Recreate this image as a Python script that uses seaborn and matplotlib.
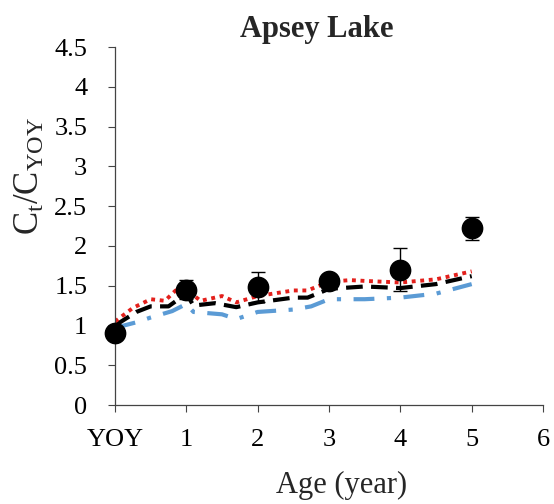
import matplotlib
matplotlib.use("Agg")
import matplotlib.pyplot as plt
import seaborn as sns
import pandas as pd

# Observed data (points with error bars)
obs_age = [0, 1, 2, 3, 4, 5]
obs_ratio = [0.90, 1.45, 1.48, 1.56, 1.70, 2.22]
obs_err = [0.05, 0.12, 0.19, 0.07, 0.27, 0.14]

# Model curves
red_x = [0, 0.25, 0.5, 0.7, 0.85, 1.0, 1.2, 1.5, 1.7, 2.0, 2.5, 2.7, 3.0, 3.3, 3.5, 4.0, 4.5, 5.0]
red_y = [1.05, 1.22, 1.33, 1.31, 1.44, 1.45, 1.31, 1.37, 1.29, 1.37, 1.44, 1.44, 1.55, 1.57, 1.56, 1.54, 1.58, 1.68]

black_x = [0, 0.3, 0.5, 0.75, 1.0, 1.1, 1.4, 1.7, 2.0, 2.5, 2.7, 3.0, 3.5, 4.0, 4.5, 5.0]
black_y = [1.00, 1.17, 1.24, 1.24, 1.40, 1.25, 1.28, 1.23, 1.29, 1.35, 1.35, 1.46, 1.49, 1.47, 1.52, 1.62]

blue_x = [0, 0.3, 0.5, 0.8, 1.0, 1.1, 1.5, 1.7, 2.0, 2.5, 2.75, 3.0, 3.5, 4.0, 4.5, 5.0]
blue_y = [0.97, 1.04, 1.10, 1.18, 1.27, 1.17, 1.14, 1.08, 1.17, 1.20, 1.24, 1.33, 1.33, 1.35, 1.40, 1.52]

x_ticks = [0, 1, 2, 3, 4, 5, 6]
x_ticklabels = ["YOY", "1", "2", "3", "4", "5", "6"]
y_ticks = [0, 0.5, 1, 1.5, 2, 2.5, 3, 3.5, 4, 4.5]
y_ticklabels = ["0", "0.5", "1", "1.5", "2", "2.5", "3", "3.5", "4", "4.5"]

sns.set_theme(style="ticks")
plt.rcParams["font.family"] = ["Liberation Serif", "DejaVu Serif"]
plt.rcParams["mathtext.fontset"] = "custom"
plt.rcParams["mathtext.rm"] = "Liberation Serif"
plt.rcParams["mathtext.it"] = "Liberation Serif"

fig = plt.figure(figsize=(5.54, 5.04), dpi=100)
ax = fig.add_axes([0.2076, 0.1964, 0.7726, 0.7103])

df_red = pd.DataFrame({"x": red_x, "y": red_y})
df_black = pd.DataFrame({"x": black_x, "y": black_y})
df_blue = pd.DataFrame({"x": blue_x, "y": blue_y})
df_obs = pd.DataFrame({"x": obs_age, "y": obs_ratio})

sns.lineplot(data=df_blue, x="x", y="y", ax=ax, color="#5B9BD5", linewidth=3.0,
             sort=False, estimator=None)
ax.lines[-1].set_dashes([5, 3, 1, 3])
sns.lineplot(data=df_black, x="x", y="y", ax=ax, color="black", linewidth=3.0,
             sort=False, estimator=None)
ax.lines[-1].set_dashes([4, 2])
sns.lineplot(data=df_red, x="x", y="y", ax=ax, color="#E3201C", linewidth=2.8,
             sort=False, estimator=None)
ax.lines[-1].set_dashes([1, 1.2])

ax.errorbar(obs_age, obs_ratio, yerr=obs_err, fmt="none", ecolor="black",
            elinewidth=1.0, capsize=5, capthick=1.0, zorder=4)
sns.scatterplot(data=df_obs, x="x", y="y", ax=ax, color="black", s=210,
                edgecolor="black", zorder=5, clip_on=False)

ax.set_xlim(0, 6)
ax.set_ylim(0, 4.5)
ax.set_xticks(x_ticks)
ax.set_xticklabels(x_ticklabels)
ax.set_yticks(y_ticks)
ax.set_yticklabels(y_ticklabels)
ax.tick_params(axis="both", labelsize=19, length=5, width=0.8, color="#444444",
               colors="black")
ax.tick_params(axis="x", pad=12)
ax.tick_params(axis="y", pad=15)
for s in ["top", "right"]:
    ax.spines[s].set_visible(False)
for s in ["left", "bottom"]:
    ax.spines[s].set_color("#444444")
    ax.spines[s].set_linewidth(0.9)

ax.set_xlabel("Age (year)", fontsize=22)
ax.xaxis.set_label_coords(0.53, -0.225)
ax.xaxis.label.set_va("center")
ax.set_ylabel(r"$\mathrm{C_t/C_{YOY}}$", fontsize=25)
ax.yaxis.set_label_coords(-0.197, 0.64)
ax.yaxis.label.set_va("center")
ax.set_title("Apsey Lake", fontsize=22, fontweight="bold", x=0.472, y=1.005)

fig.savefig("out.png", dpi=100)
